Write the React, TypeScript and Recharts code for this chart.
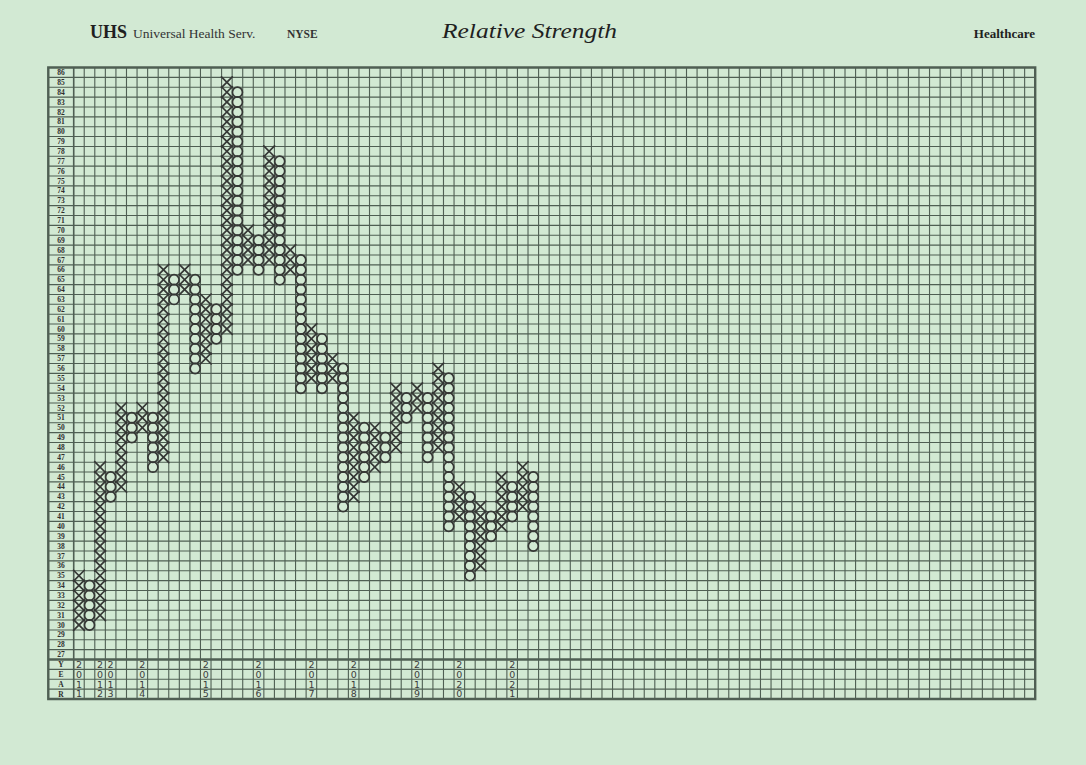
import React from 'react';
import {
  ScatterChart,
  Scatter,
  XAxis,
  YAxis,
  CartesianGrid,
  ReferenceArea,
  ReferenceLine
} from 'recharts';

// Point & figure columns, left to right: first box and last box of each column
// (rising = X column, falling = O column)
const columnStarts = [
  30, 34, 31, 45, 44, 51, 50, 51, 47, 65, 64, 65, 57, 62, 60, 84, 67, 69, 67, 77, 66, 67,
  55, 59, 55, 56, 43, 50, 46, 49, 48, 53, 52, 53, 48, 55, 41, 43, 36, 41, 40, 44, 42, 45
];
const columnEnds = [
  35, 30, 46, 43, 52, 49, 52, 46, 66, 63, 66, 56, 63, 59, 85, 66, 70, 66, 78, 65, 68, 54,
  60, 54, 57, 42, 51, 45, 50, 47, 54, 51, 54, 47, 56, 40, 44, 35, 42, 39, 45, 41, 46, 38
];

// row labels on the left
const priceRows = Array.from({ length: 60 }, (_, i) => 86 - i);
const yearRowLetters = ['Y', 'E', 'A', 'R'];
const yearRowValues = [26, 25, 24, 23];

// years written into the bottom rows, with the column they start in
const yearColumns = [1, 3, 4, 7, 13, 18, 23, 27, 33, 37, 42];
const yearLabels = ['2011', '2012', '2013', '2014', '2015', '2016', '2017', '2018', '2019', '2020', '2021'];

const TOTAL_COLS = 91;
const LABEL_COL = -2.4;
const GRID_COLOR = '#4f5f53';
const INK = '#353735';
const SERIF = "'Liberation Serif', 'DejaVu Serif', 'Times New Roman', serif";

const xBoxes: { x: number; y: number }[] = [];
const oBoxes: { x: number; y: number }[] = [];
columnStarts.forEach((start, i) => {
  const end = columnEnds[i];
  const step = end >= start ? 1 : -1;
  const target = step > 0 ? xBoxes : oBoxes;
  for (let v = start; v !== end + step; v += step) {
    target.push({ x: i + 0.5, y: v });
  }
});

const yearDigits: { x: number; y: number; label: string }[] = [];
yearColumns.forEach((col, i) => {
  yearLabels[i].split('').forEach((d, j) => {
    yearDigits.push({ x: col - 0.5, y: yearRowValues[j], label: d });
  });
});

const rowLabels = [
  ...priceRows.map((v) => ({ x: LABEL_COL / 2, y: v, label: String(v) })),
  ...yearRowLetters.map((l, i) => ({ x: LABEL_COL / 2, y: yearRowValues[i], label: l }))
];

const xGrid = [LABEL_COL, ...Array.from({ length: TOTAL_COLS + 1 }, (_, i) => i)];
const yGrid = Array.from({ length: 65 }, (_, i) => 22.5 + i);

const XMark = (props: any) => {
  const { cx, cy } = props;
  return (
    <g stroke={INK} strokeWidth={1.7} fill="none" strokeLinecap="round">
      <line x1={cx - 5.4} y1={cy - 5.4} x2={cx + 5.4} y2={cy + 5.4} />
      <line x1={cx + 5.4} y1={cy - 5.4} x2={cx - 5.4} y2={cy + 5.4} />
    </g>
  );
};

const OMark = (props: any) => {
  const { cx, cy } = props;
  return <ellipse cx={cx} cy={cy} rx={5} ry={5.1} stroke={INK} strokeWidth={1.7} fill="none" />;
};

const RowLabel = (props: any) => {
  const { cx, cy, payload } = props;
  return (
    <text
      x={cx}
      y={cy + 2.6}
      textAnchor="middle"
      fontFamily={SERIF}
      fontWeight="bold"
      fontSize={7.5}
      fill="#2e2e2e"
    >
      {payload.label}
    </text>
  );
};

const YearDigit = (props: any) => {
  const { cx, cy, payload } = props;
  return (
    <text
      x={cx}
      y={cy + 3.4}
      textAnchor="middle"
      fontFamily="'DejaVu Sans', sans-serif"
      fontSize={9.5}
      fill="#3c3c3c"
    >
      {payload.label}
    </text>
  );
};

export default function App() {
  return (
    <div
      style={{
        position: 'absolute',
        left: 0,
        top: 0,
        width: 1086,
        height: 765,
        background: '#d2e9d3'
      }}
    >
      <svg width={1086} height={60} style={{ position: 'absolute', left: 0, top: 0 }}>
        <text x={90} y={38} fontFamily={SERIF} fontSize={18} fontWeight="bold" fill="#1f1f1f">
          UHS
        </text>
        <text x={133} y={38} fontFamily={SERIF} fontSize={13.5} fill="#333">
          Universal Health Serv.
        </text>
        <text x={287} y={38} fontFamily={SERIF} fontSize={11.5} fontWeight="bold" fill="#333">
          NYSE
        </text>
        <text
          x={442}
          y={38}
          fontFamily={SERIF}
          fontSize={21}
          fontStyle="italic"
          fill="#1f1f1f"
          textLength={175}
          lengthAdjust="spacingAndGlyphs"
        >
          Relative Strength
        </text>
        <text
          x={1035}
          y={38}
          fontFamily={SERIF}
          fontSize={13}
          fontWeight="bold"
          textAnchor="end"
          fill="#1f1f1f"
        >
          Healthcare
        </text>
      </svg>
      <div style={{ position: 'absolute', left: 0, top: 0 }}>
        <ScatterChart
          width={1086}
          height={765}
          margin={{ top: 67.5, right: 50.8, bottom: 66, left: 48.3 }}
        >
          <XAxis
            type="number"
            dataKey="x"
            domain={[LABEL_COL, TOTAL_COLS]}
            ticks={xGrid}
            interval={0}
            hide
          />
          <YAxis
            type="number"
            dataKey="y"
            domain={[22.5, 86.5]}
            ticks={yGrid}
            interval={0}
            hide
          />
          <CartesianGrid
            stroke={GRID_COLOR}
            strokeWidth={1.1}
            verticalValues={xGrid}
            horizontalValues={yGrid}
          />
          <ReferenceLine x={0} stroke={GRID_COLOR} strokeWidth={1.5} />
          <ReferenceLine y={26.5} stroke={GRID_COLOR} strokeWidth={2.4} />
          <ReferenceArea
            x1={LABEL_COL}
            x2={TOTAL_COLS}
            y1={22.5}
            y2={86.5}
            fill="none"
            fillOpacity={0}
            stroke={GRID_COLOR}
            strokeWidth={2.4}
          />
          <Scatter data={rowLabels} shape={RowLabel} isAnimationActive={false} />
          <Scatter data={yearDigits} shape={YearDigit} isAnimationActive={false} />
          <Scatter data={xBoxes} shape={XMark} isAnimationActive={false} />
          <Scatter data={oBoxes} shape={OMark} isAnimationActive={false} />
        </ScatterChart>
      </div>
    </div>
  );
}
